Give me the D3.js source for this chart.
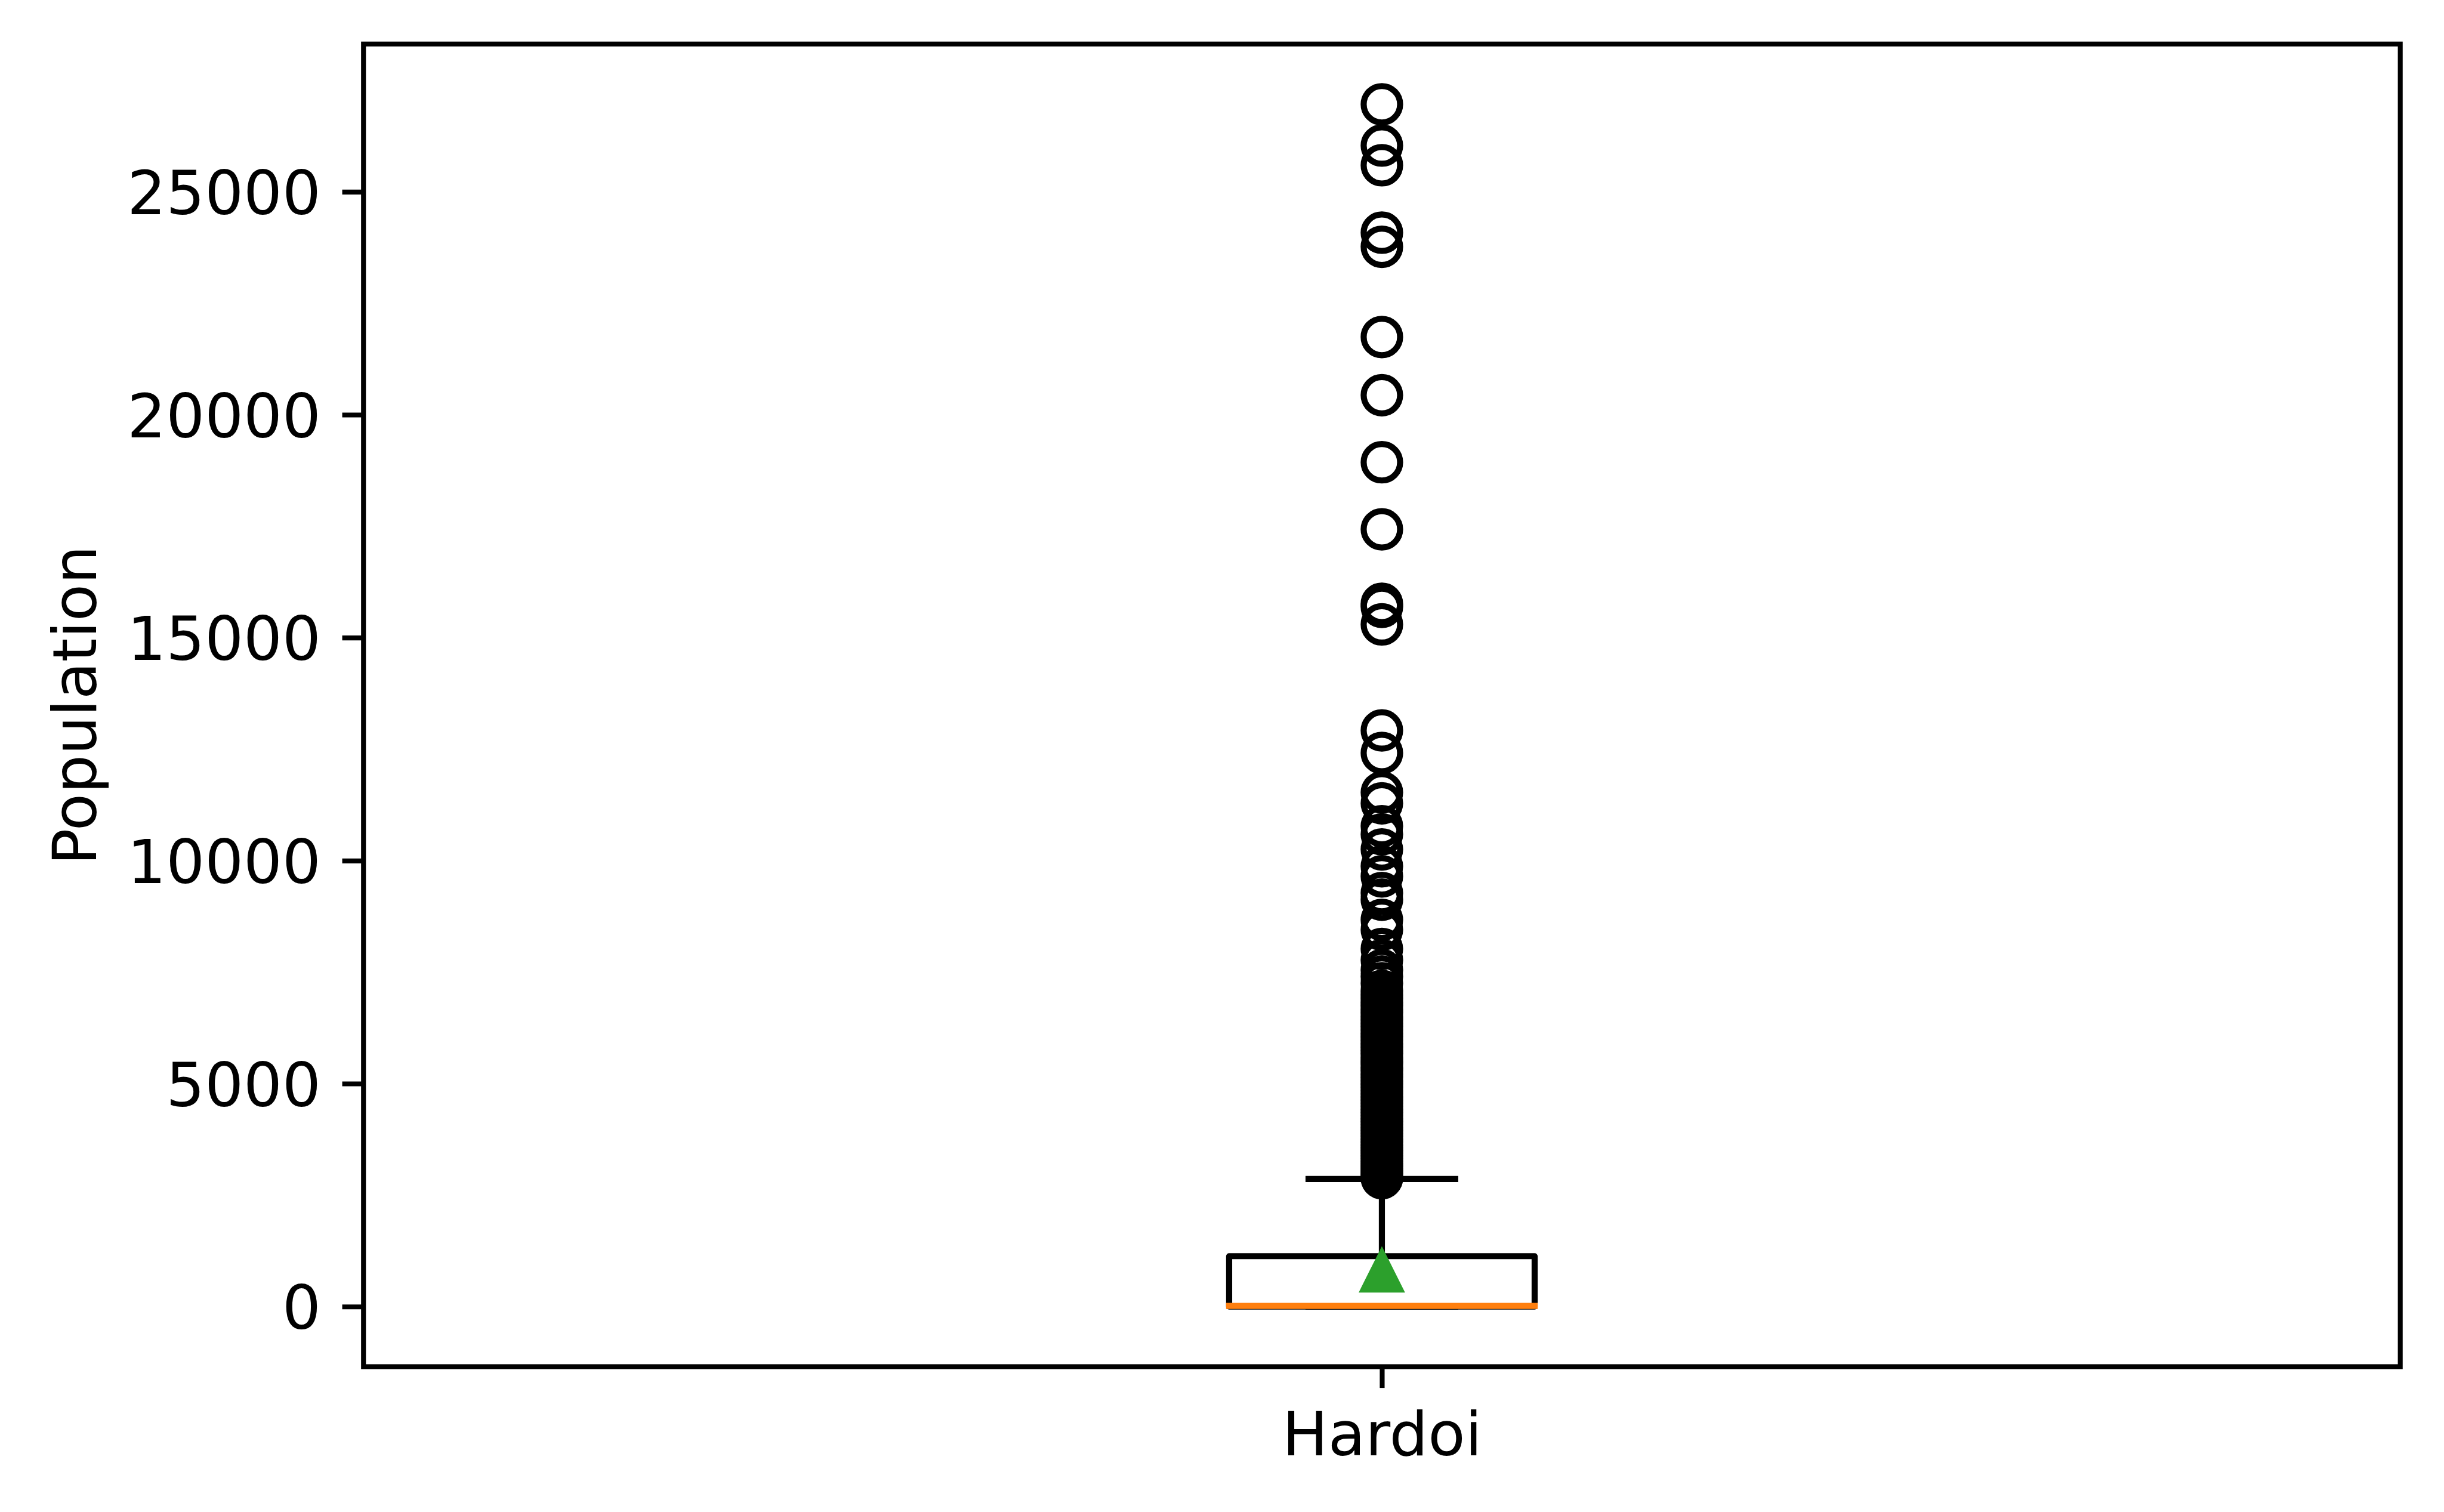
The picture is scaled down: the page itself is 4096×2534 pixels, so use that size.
<!DOCTYPE html>
<html>
<head>
<meta charset="utf-8">
<script src="https://cdn.jsdelivr.net/npm/d3@7"></script>
<style>
  html, body { margin: 0; padding: 0; background: #ffffff; }
  svg { display: block; }
  text { font-family: "DejaVu Sans", sans-serif; fill: #000; }
</style>
</head>
<body>
<svg id="chart" width="4096" height="2534"></svg>
<script>
// ---------------- data ----------------
const categories = ["Hardoi"];
const yTicks = [0, 5000, 10000, 15000, 20000, 25000];
const yDomain = [-1348, 28313];
const yLabel = "Population";

// box statistics for "Hardoi"
const q1 = [0];
const median = [0];
const q3 = [1130];
const whiskerLow = [0];
const whiskerHigh = [2860];
const mean = [835];

// outliers (fliers)
const fliers = [
  26961, 26036, 25594, 24082, 23766, 21743, 20437, 18934, 17430,
  15759, 15690, 15298, 12920, 12414, 11530, 11285, 10774, 10589,
  10251, 9873, 9647, 9273, 9125, 8673, 8448, 8020, 7770,
  7545, 7400, 7250, 7080,
  6990, 6910, 6820, 6750, 6660, 6590, 6500, 6430, 6350, 6280,
  6200, 6120, 6050, 5970, 5890, 5820, 5740, 5670, 5590, 5510,
  5440, 5360, 5290, 5210, 5140, 5060, 4990, 4920, 4840, 4770,
  4700, 4630, 4560, 4490, 4420, 4350, 4280, 4210, 4150, 4080,
  4010, 3950, 3880, 3820, 3750, 3690, 3620, 3560, 3500, 3440,
  3380, 3320, 3260, 3200, 3150, 3090, 3040, 2980, 2930, 2880
];

// ---------------- layout ----------------
const S = 0.734;
const W = 4096, H = 2534;
const plot = { left: 830 * S, right: 5480.5 * S, top: 100.5 * S, bottom: 3120.5 * S };
const lw = 11.1 * S;           // 0.8pt lines
const boxLw = 13.9 * S;        // 1pt lines
const fontSize = 139 * S;
const tickLen = 48.6 * S;
const tickPad = 48.6 * S;
const boxWidth = 0.15;
const capWidth = 0.075;

const svg = d3.select("#chart");
svg.append("rect").attr("width", W).attr("height", H).attr("fill", "#fff");

const x = d3.scaleLinear().domain([0.5, 1.5]).range([plot.left, plot.right]);
const y = d3.scaleLinear().domain(yDomain).range([plot.bottom, plot.top]);

const g = svg.append("g");

categories.forEach((cat, i) => {
  const pos = i + 1;
  const cx = x(pos);
  const xl = x(pos - boxWidth / 2), xr = x(pos + boxWidth / 2);
  const cl = x(pos - capWidth / 2), cr = x(pos + capWidth / 2);

  // box
  g.append("rect")
    .attr("x", xl).attr("y", y(q3[i]))
    .attr("width", xr - xl).attr("height", y(q1[i]) - y(q3[i]))
    .attr("fill", "none").attr("stroke", "#000").attr("stroke-width", boxLw)
    .attr("stroke-linejoin", "round");

  // whiskers
  g.append("line").attr("x1", cx).attr("x2", cx)
    .attr("y1", y(q3[i])).attr("y2", y(whiskerHigh[i]))
    .attr("stroke", "#000").attr("stroke-width", boxLw);
  g.append("line").attr("x1", cx).attr("x2", cx)
    .attr("y1", y(q1[i])).attr("y2", y(whiskerLow[i]))
    .attr("stroke", "#000").attr("stroke-width", boxLw);

  // caps
  [whiskerHigh[i], whiskerLow[i]].forEach(v => {
    g.append("line").attr("x1", cl).attr("x2", cr)
      .attr("y1", y(v)).attr("y2", y(v))
      .attr("stroke", "#000").attr("stroke-width", boxLw);
  });

  // median
  g.append("line").attr("x1", xl - boxLw / 2).attr("x2", xr + boxLw / 2)
    .attr("y1", y(median[i]) - 1).attr("y2", y(median[i]) - 1)
    .attr("stroke", "#ff7f0e").attr("stroke-width", boxLw);

  // fliers
  g.selectAll(null).data(fliers).enter().append("circle")
    .attr("cx", cx).attr("cy", d => y(d))
    .attr("r", 41.6 * S)
    .attr("fill", "none").attr("stroke", "#000").attr("stroke-width", boxLw);

  // mean marker (triangle)
  const h = 53 * S;
  const my = y(mean[i]);
  const p = d3.path();
  p.moveTo(cx, my - h);
  p.lineTo(cx - h, my + h);
  p.lineTo(cx + h, my + h);
  p.closePath();
  g.append("path").attr("d", p.toString()).attr("fill", "#2ca02c");
});

// ---------------- axes ----------------
const yAxis = d3.axisLeft(y).tickValues(yTicks).tickFormat(d3.format("d"))
  .tickSize(tickLen).tickPadding(tickPad);
const gy = svg.append("g").attr("transform", `translate(${plot.left},0)`).call(yAxis);
gy.select(".domain").remove();
gy.selectAll(".tick line").attr("stroke", "#000").attr("stroke-width", lw);
gy.selectAll(".tick text").attr("font-size", fontSize)
  .attr("font-family", "DejaVu Sans").attr("dy", "0.364em").attr("fill", "#000");

const xAxis = d3.axisBottom(x).tickValues(categories.map((c, i) => i + 1))
  .tickFormat((d) => categories[d - 1]).tickSize(tickLen).tickPadding(tickPad);
const gx = svg.append("g").attr("transform", `translate(0,${plot.bottom})`).call(xAxis);
gx.select(".domain").remove();
gx.selectAll(".tick line").attr("stroke", "#000").attr("stroke-width", lw);
gx.selectAll(".tick text").attr("font-size", fontSize)
  .attr("font-family", "DejaVu Sans").attr("dy", "0.76em").attr("fill", "#000");

// frame (spines)
svg.append("rect")
  .attr("x", plot.left).attr("y", plot.top)
  .attr("width", plot.right - plot.left).attr("height", plot.bottom - plot.top)
  .attr("fill", "none").attr("stroke", "#000").attr("stroke-width", lw)
  .attr("stroke-linejoin", "miter");

// y label
svg.append("text")
  .attr("transform", `translate(${219 * S},${(plot.top + plot.bottom) / 2}) rotate(-90)`)
  .attr("text-anchor", "middle")
  .attr("font-size", fontSize)
  .text(yLabel);
</script>
</body>
</html>
